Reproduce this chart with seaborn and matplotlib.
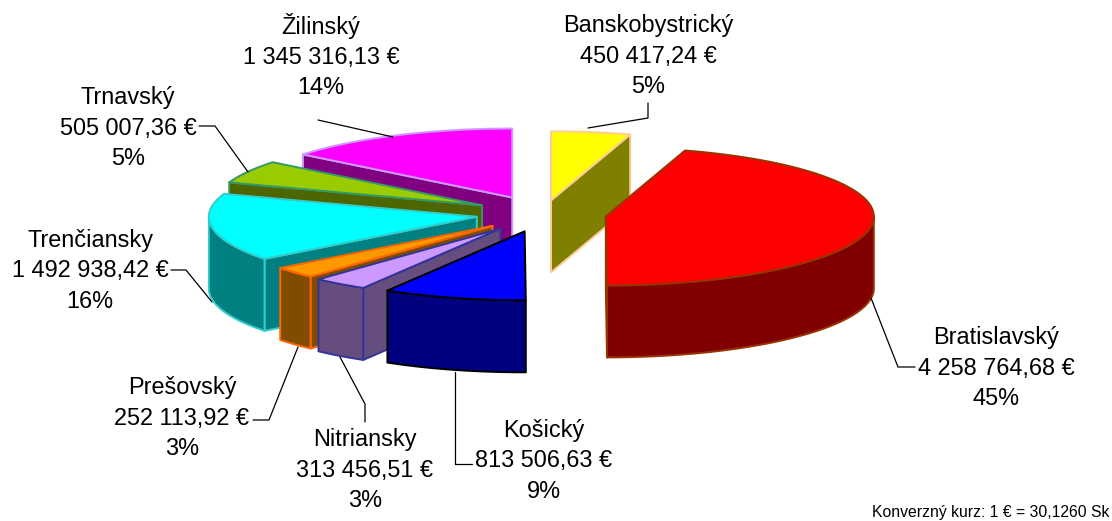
import numpy as np
import seaborn as sns
import matplotlib.pyplot as plt

# clockwise from 12 o'clock, same order as the source table
regions = ["Banskobystrický", "Bratislavský", "Košický", "Nitriansky",
           "Prešovský", "Trenčiansky", "Trnavský", "Žilinský"]
amounts = [450417.24, 4258764.68, 813506.63, 313456.51,
           252113.92, 1492938.42, 505007.36, 1345316.13]
amount_labels = ["450 417,24 €", "4 258 764,68 €", "813 506,63 €", "313 456,51 €",
                 "252 113,92 €", "1 492 938,42 €", "505 007,36 €", "1 345 316,13 €"]
percent_labels = ["5%", "45%", "9%", "3%", "3%", "16%", "5%", "14%"]

# looks
explode = [0.20, 0.237, 0.26, 0.265, 0.255, 0.25, 0.26, 0.265]
top_colors = ["#FFFF00", "#FF0000", "#0000FF", "#CC99FF",
              "#FF9900", "#00FFFF", "#99CC00", "#FF00FF"]
edge_colors = ["#FFCC99", "#993300", "#000000", "#333399",
               "#FF6600", "#33CCCC", "#339966", "#CC99FF"]
label_pos = [(648, 56), (996, 368), (544, 461), (365, 470),
             (182, 418), (90, 271), (128, 128), (321, 56)]
leaders = [
    [(648, 103), (648, 118), (588, 128)],
    [(871, 298), (898, 367), (915, 367)],
    [(455, 372), (455, 464), (472, 464)],
    [(365, 422), (365, 404), (340, 357)],
    [(253, 420), (269, 420), (298, 347)],
    [(171, 270), (186, 270), (212, 302)],
    [(199, 126), (215, 126), (248, 172)],
    [(318, 120), (393, 137)],
]
CX, CY = 543, 214
RX, RY = 268, 69
DEPTH = 72

sns.set_theme(style="white")
plt.rcParams['font.family'] = ['Liberation Sans', 'DejaVu Sans']

palette = sns.color_palette(top_colors)
side_colors = [tuple(np.array(c) * 0.5) for c in palette]

shares = np.array(amounts) / np.sum(amounts)
ends = np.cumsum(shares) * 360
starts = ends - shares * 360


def rim(deg, tx, ty):
    a = np.radians(deg)
    return tx + RX * np.sin(a), ty - RY * np.cos(a)


fig = plt.figure(figsize=(11.12, 5.21), dpi=100)
ax = fig.add_axes([0, 0, 1, 1])
ax.set_xlim(0, 1112)
ax.set_ylim(521, 0)
ax.axis('off')

# back wedges first, front ones painted over them
draw_order = [7, 6, 5, 4, 3, 2, 0, 1]
for i in draw_order:
    s, e = starts[i], ends[i]
    mid = np.radians((s + e) / 2)
    tx = CX + explode[i] * RX * np.sin(mid)
    ty = CY - explode[i] * RY * np.cos(mid)
    style = dict(facecolor=side_colors[i], edgecolor=edge_colors[i], linewidth=1.4, joinstyle='round')

    # cut faces that look towards the viewer
    for deg, visible in ((s, np.sin(np.radians(s)) < -1e-6), (e, np.sin(np.radians(e)) > 1e-6)):
        if visible:
            rx, ry = rim(deg, tx, ty)
            ax.fill([tx, rx, rx, tx], [ty, ry, ry + DEPTH, ty + DEPTH], **style)

    # outer wall, only the front half of the ellipse shows
    lo, hi = max(s, 90), min(e, 270)
    if lo < hi:
        t = np.linspace(lo, hi, 60)
        wx, wy = rim(t, tx, ty)
        ax.fill(np.r_[wx, wx[::-1]], np.r_[wy, wy[::-1] + DEPTH], **style)

    t = np.linspace(s, e, 80)
    px, py = rim(t, tx, ty)
    ax.fill(np.r_[tx, px], np.r_[ty, py], facecolor=palette[i],
            edgecolor=edge_colors[i], linewidth=1.4, joinstyle='round')

for i, name in enumerate(regions):
    x, y = label_pos[i]
    ax.text(x, y, f"{name}\n{amount_labels[i]}\n{percent_labels[i]}", ha='center', va='center',
            fontsize=16.9, color='black', linespacing=1.40)
    pts = np.array(leaders[i])
    ax.plot(pts[:, 0], pts[:, 1], color='black', linewidth=0.9)

ax.text(1109, 513, "Konverzný kurz: 1 € = 30,1260 Sk", ha='right', va='center',
        fontsize=11.3, color='black')

plt.savefig("out.png", dpi=100)
plt.close()
